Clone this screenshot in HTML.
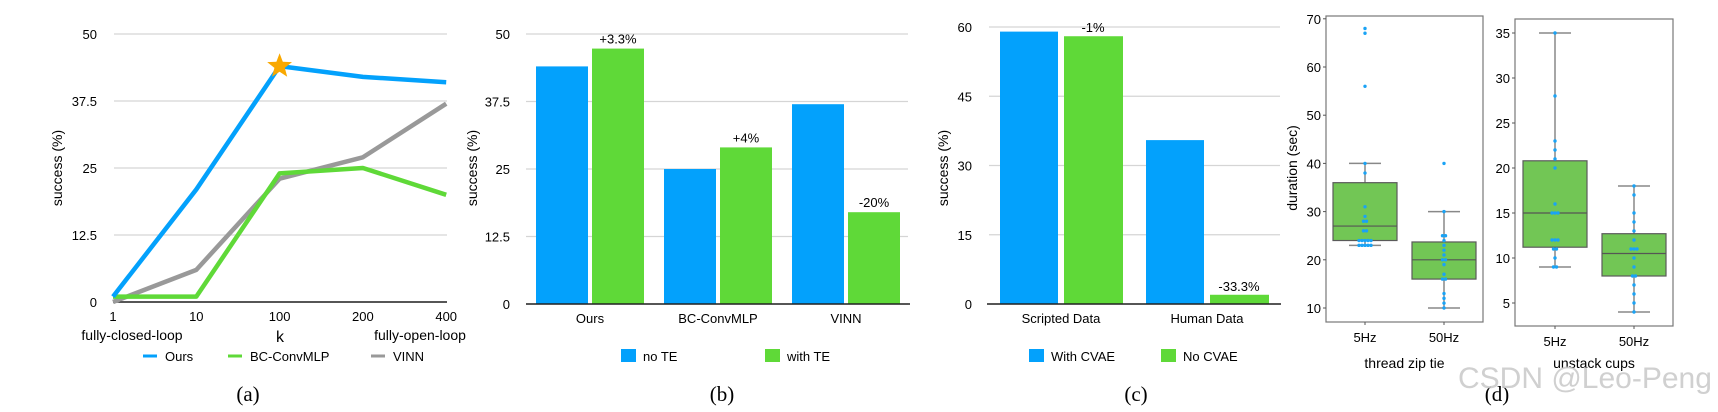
<!DOCTYPE html>
<html><head><meta charset="utf-8"><style>
body{margin:0;background:#fff;}
svg text{font-family:"Liberation Sans",sans-serif;}
.serif{font-family:"Liberation Serif",serif;}
</style></head><body>
<svg id="s" width="1718" height="407" viewBox="0 0 1718 407" xmlns="http://www.w3.org/2000/svg"></svg>
<script>
const aCats=["1","10","100","200","400"];
const aOurs=[1,21,44,42,41];
const aBC=[1,1,24,25,20];
const aVINN=[0,6,23,27,37];
const abTicks=[0,12.5,25,37.5,50];
const bCats=["Ours","BC-ConvMLP","VINN"];
const bNoTE=[44,25,37];
const bWithTE=[47.3,29,17];
const bLabels=["+3.3%","+4%","-20%"];
const cCats=["Scripted Data","Human Data"];
const cWith=[59,35.5];
const cNo=[58,2];
const cLabels=["-1%","-33.3%"];
const cTicks=[0,15,30,45,60];
const d1Stats=[[23,24,27,36,40],[10,16,20,23.7,30]];
const d1Pts=[[23,23,23,23,23,24,24,24,24,24,26,26,28,28,29,31,38,40,56,67,68],[10,11,12,13,16,16,17,19,20,20,21,22,23,24,25,25,30,40]];
const d1Ticks=[10,20,30,40,50,60,70];
const d2Stats=[[9,11.2,15,20.8,35],[4,8,10.5,12.7,18]];
const d2Pts=[[9,9,10,11,11,12,12,12,15,15,15,16,20,21,22,23,28,35],[4,5,6,7,8,8,9,10,11,11,11,12,13,14,15,17,18]];
const d2Ticks=[5,10,15,20,25,30,35];
const dCats=["5Hz","50Hz"];

const S=document.getElementById('s');const NS="http://www.w3.org/2000/svg";
function el(t,a,txt){const e=document.createElementNS(NS,t);for(const k in a)e.setAttribute(k,a[k]);if(txt!==undefined)e.textContent=txt;S.appendChild(e);return e;}
const BLUE="#03a1fc",GREEN="#5fd938",GRAY="#999";

// Panel a
const ay=v=>302-(v/50)*268, ax=i=>113+i*83.3;
abTicks.forEach(t=>{const g=el('line',{x1:114,x2:447,y1:ay(t),y2:ay(t),stroke:'#d5d5d5','stroke-width':1.3});
const l=el('text',{x:97,y:ay(t)+5,'text-anchor':'end','font-size':13},String(t));});
let ax0=el('line',{x1:113,x2:447,y1:302,y2:302,stroke:'#222','stroke-width':1.5});
aCats.forEach((c,i)=>{const l=el('text',{x:ax(i),y:321,'text-anchor':'middle','font-size':13},c);});
[[aVINN,'#999','a-line-vinn'],[aBC,GREEN,'a-line-bc-convmlp'],[aOurs,BLUE,'a-line-ours']].forEach(([d,c,n])=>{const p=el('polyline',{points:d.map((v,i)=>ax(i)+','+ay(v)).join(' '),fill:'none',stroke:c,'stroke-width':4.5,'stroke-linejoin':'round'});});
(function(){const cx=ax(2),cy=ay(aOurs[2]),R=13,r=5.5;let pts=[];for(let k=0;k<10;k++){const rr=k%2?r:R,an=-Math.PI/2+k*Math.PI/5;pts.push((cx+rr*Math.cos(an)).toFixed(1)+','+(cy+rr*Math.sin(an)).toFixed(1));}
const s=el('polygon',{points:pts.join(' '),fill:'#f9a800'});})();
let t;
t=el('text',{x:0,y:0,'font-size':14,transform:'translate(62,168) rotate(-90)','text-anchor':'middle'},'success (%)');
t=el('text',{x:132,y:340,'text-anchor':'middle','font-size':14},'fully-closed-loop');
t=el('text',{x:280,y:342,'text-anchor':'middle','font-size':16},'k');
t=el('text',{x:420,y:340,'text-anchor':'middle','font-size':14},'fully-open-loop');
[[143,BLUE,'Ours'],[228,GREEN,'BC-ConvMLP'],[371,'#999','VINN']].forEach(([x,c,n])=>{const l=el('line',{x1:x,x2:x+14,y1:356,y2:356,stroke:c,'stroke-width':3});
const tx=el('text',{x:x+22,y:361,'font-size':13},n);});
t=el('text',{x:248,y:401,'text-anchor':'middle','font-size':21,class:'serif'},'(a)');

// Panel b
const by=v=>304-(v/50)*270, bx=i=>590+i*128;
abTicks.forEach(tk=>{const g=el('line',{x1:526,x2:908,y1:by(tk),y2:by(tk),stroke:'#d5d5d5','stroke-width':1.3});
const l=el('text',{x:510,y:by(tk)+5,'text-anchor':'end','font-size':13},String(tk));});
bCats.forEach((c,i)=>{const cx=bx(i);
let r=el('rect',{x:cx-54,y:by(bNoTE[i]),width:52,height:by(0)-by(bNoTE[i]),fill:BLUE});
r=el('rect',{x:cx+2,y:by(bWithTE[i]),width:52,height:by(0)-by(bWithTE[i]),fill:GREEN});
let l=el('text',{x:cx+28,y:by(bWithTE[i])-5,'text-anchor':'middle','font-size':13},bLabels[i]);
l=el('text',{x:cx,y:323,'text-anchor':'middle','font-size':13},c);});
t=el('line',{x1:526,x2:910,y1:304,y2:304,stroke:'#222','stroke-width':1.5});
t=el('text',{x:0,y:0,'font-size':14,transform:'translate(477,168) rotate(-90)','text-anchor':'middle'},'success (%)');
[[621,BLUE,'no TE'],[765,GREEN,'with TE']].forEach(([x,c,n])=>{const r=el('rect',{x:x,y:349,width:15,height:13,fill:c});
const tx=el('text',{x:x+22,y:361,'font-size':13},n);});
t=el('text',{x:722,y:401,'text-anchor':'middle','font-size':21,class:'serif'},'(b)');

// Panel c
const cy=v=>304-(v/60)*277, cx2=i=>1061+i*146;
cTicks.forEach(tk=>{const g=el('line',{x1:989,x2:1280,y1:cy(tk),y2:cy(tk),stroke:'#d5d5d5','stroke-width':1.3});
const l=el('text',{x:972,y:cy(tk)+5,'text-anchor':'end','font-size':13},String(tk));});
cCats.forEach((c,i)=>{const x=cx2(i);
let r=el('rect',{x:x-61,y:cy(cWith[i]),width:58,height:cy(0)-cy(cWith[i]),fill:BLUE});
r=el('rect',{x:x+3,y:cy(cNo[i]),width:59,height:cy(0)-cy(cNo[i]),fill:GREEN});
let l=el('text',{x:x+32,y:cy(cNo[i])-4,'text-anchor':'middle','font-size':13},cLabels[i]);
l=el('text',{x:x,y:323,'text-anchor':'middle','font-size':13},c);});
t=el('line',{x1:987,x2:1281,y1:304,y2:304,stroke:'#222','stroke-width':1.5});
t=el('text',{x:0,y:0,'font-size':14,transform:'translate(948,168) rotate(-90)','text-anchor':'middle'},'success (%)');
[[1029,BLUE,'With CVAE'],[1161,GREEN,'No CVAE']].forEach(([x,c,n])=>{const r=el('rect',{x:x,y:349,width:15,height:13,fill:c});
const tx=el('text',{x:x+22,y:361,'font-size':13},n);});
t=el('text',{x:1136,y:401,'text-anchor':'middle','font-size':21,class:'serif'},'(c)');

// Panel d boxplots
function boxPanel(fx,fy,fw,fh,yf,ticks,stats,pts,xs,title,pfx){
  let f=el('rect',{x:fx,y:fy,width:fw,height:fh,fill:'none',stroke:'#777','stroke-width':1.2});
  ticks.forEach(tk=>{let l=el('line',{x1:fx-3,x2:fx,y1:yf(tk),y2:yf(tk),stroke:'#555'});
   l=el('text',{x:fx-5,y:yf(tk)+5,'text-anchor':'end','font-size':13},String(tk));});
  stats.forEach((s,i)=>{const x=xs[i];
   let w=el('line',{x1:x,x2:x,y1:yf(s[0]),y2:yf(s[4]),stroke:'#888','stroke-width':1.5});
   [s[0],s[4]].forEach(v=>{const c=el('line',{x1:x-16,x2:x+16,y1:yf(v),y2:yf(v),stroke:'#888','stroke-width':1.5});});
   let b=el('rect',{x:x-32,y:yf(s[3]),width:64,height:yf(s[1])-yf(s[3]),fill:'#72c655',stroke:'#5a5a5a','stroke-width':1.2});
   let m=el('line',{x1:x-32,x2:x+32,y1:yf(s[2]),y2:yf(s[2]),stroke:'#555','stroke-width':1.2});
   const cnt={};pts[i].forEach(v=>{cnt[v]=(cnt[v]||0)+1;});
   pts[i].forEach((v,j)=>{const k=pts[i].slice(0,j).filter(q=>q===v).length,n=cnt[v];const p=el('circle',{cx:x+(k-(n-1)/2)*3,cy:yf(v),r:1.7,fill:'#1aa3f5'});});
   let l=el('line',{x1:x,x2:x,y1:fy+fh,y2:fy+fh+3,stroke:'#555'});
   l=el('text',{x:x,y:fy+fh+20,'text-anchor':'middle','font-size':13},dCats[i]);});
  let tt=el('text',{x:fx+fw/2,y:368,'text-anchor':'middle','font-size':14},title);
}
boxPanel(1326,16,157,306,v=>308-(v-10)*4.82,d1Ticks,d1Stats,d1Pts,[1365,1444],'thread zip tie','d1');
boxPanel(1515,19,158,307,v=>303-(v-5)*9,d2Ticks,d2Stats,d2Pts,[1555,1634],'unstack cups','d2');
t=el('text',{x:0,y:0,'font-size':14,transform:'translate(1297,168) rotate(-90)','text-anchor':'middle'},'duration (sec)');
t=el('text',{x:1497,y:401,'text-anchor':'middle','font-size':21,class:'serif'},'(d)');
t=el('text',{x:1458,y:388,'font-size':30,fill:'#c8c8c8','fill-opacity':0.85},'CSDN @Leo-Peng');
</script>
</body></html>
